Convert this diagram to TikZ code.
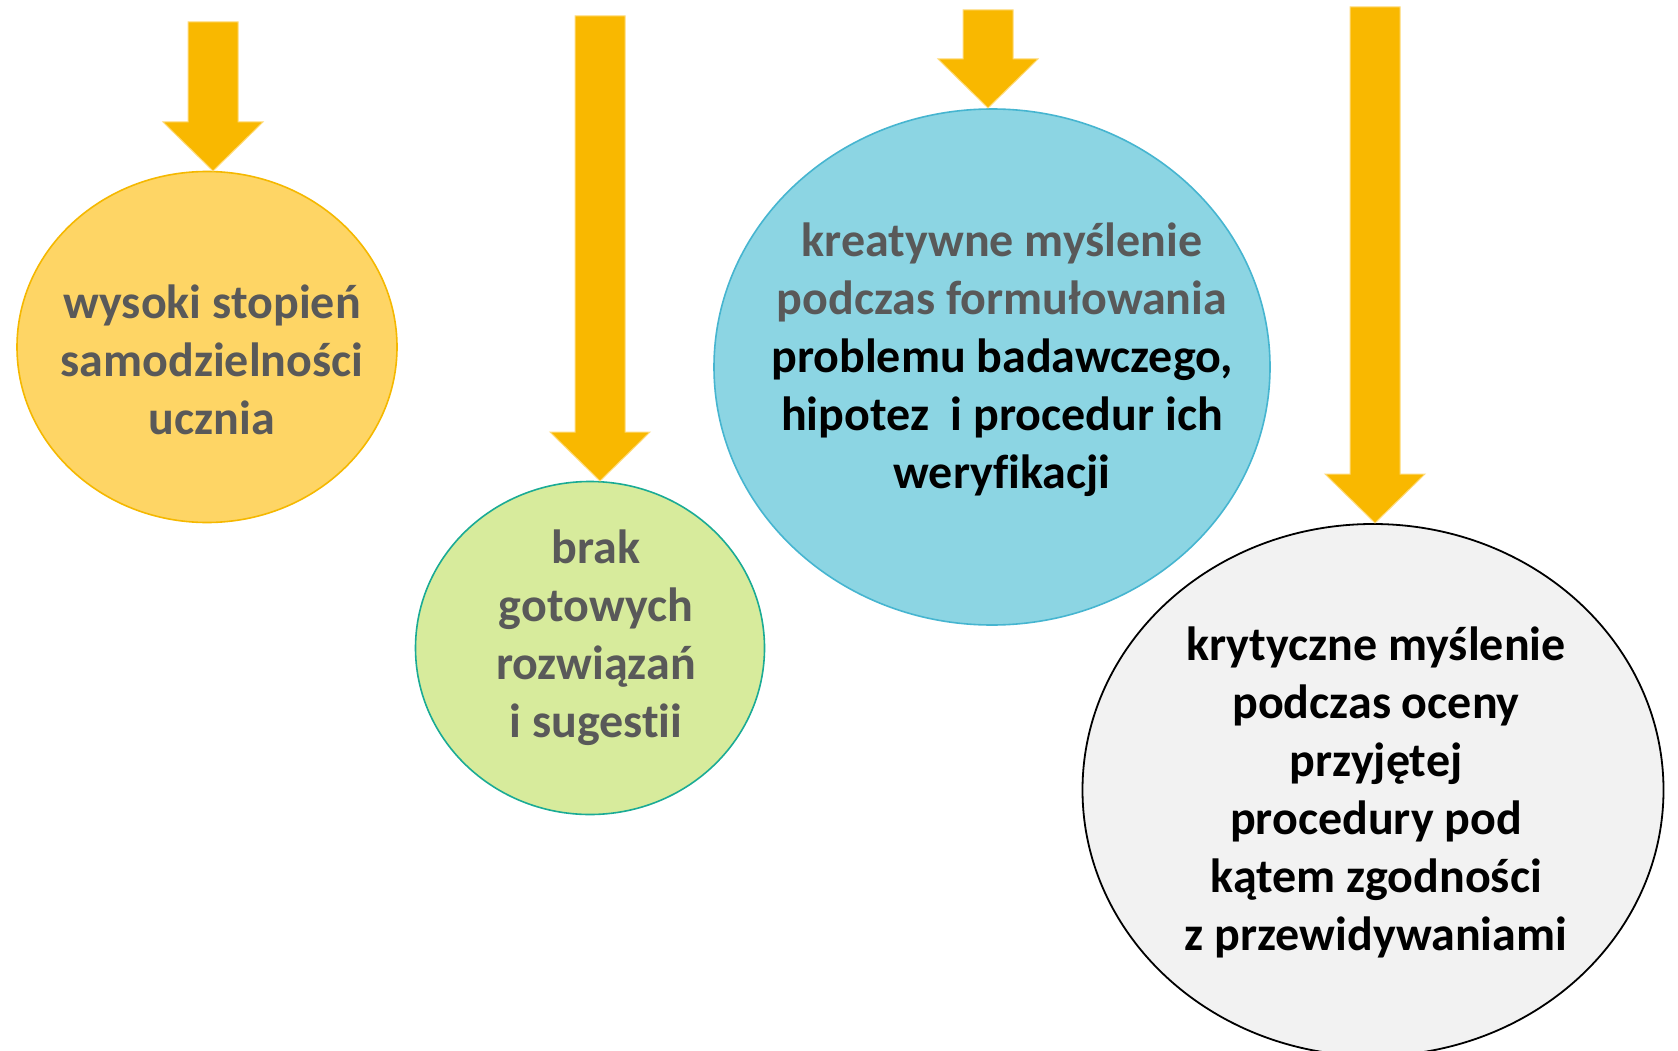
\documentclass[tikz,border=0pt]{standalone}
\usepackage{fontspec}
\setmainfont[Ligatures=NoCommon]{Carlito}
\usetikzlibrary{shapes.geometric,calc}
\definecolor{arrowfill}{HTML}{F9B800}
\definecolor{arrowedge}{HTML}{FFDB7A}
\definecolor{txtgrey}{HTML}{595959}
\definecolor{yfill}{HTML}{FED565}
\definecolor{yedge}{HTML}{F5B800}
\definecolor{gfill}{HTML}{D7EB9C}
\definecolor{gedge}{HTML}{1AAB95}
\definecolor{bfill}{HTML}{8CD5E3}
\definecolor{bedge}{HTML}{46B5D0}
\definecolor{wfill}{HTML}{F2F2F2}
\tikzset{
  bubble/.style={ellipse, inner sep=0pt, line width=1.6pt},
  bubbletext/.style={align=center, font=\fontsize{48}{58}\selectfont\bfseries, inner sep=0pt},
  blockarrow/.style={fill=arrowfill, draw=arrowedge, line width=1pt, line join=miter},
}
% #1 top coordinate, #2 tip coordinate
\newcommand{\myblockarrow}[2]{%
  \path[blockarrow]
    ($(#1)+(-25,0)$) -- ($(#1)+(25,0)$) --
    ($(#2)+(25,-49)$) -- ($(#2)+(50,-49)$) -- (#2) --
    ($(#2)+(-50,-49)$) -- ($(#2)+(-25,-49)$) -- cycle;}
\begin{document}
\begin{tikzpicture}[x=1pt,y=-1pt]
\useasboundingbox (0,0) rectangle (1678,1051);
\fill[white] (0,0) rectangle (1678,1051);

% bubbles
\node[bubble, fill=yfill, draw=yedge, minimum width=380pt, minimum height=351pt] (e1) at (207,347) {};
\node[bubble, fill=gfill, draw=gedge, minimum width=349pt, minimum height=333pt] (e2) at (590,648) {};
\node[bubble, fill=bfill, draw=bedge, minimum width=556pt, minimum height=516pt] (e3) at (992,367) {};
\node[bubble, fill=wfill, draw=black, line width=1.8pt, minimum width=581pt, minimum height=532pt] (e4) at (1373,790) {};

% arrows
\coordinate (a1top) at (213,22);   \coordinate (a1tip) at (213,171);
\coordinate (a2top) at (600,16);   \coordinate (a2tip) at (600,481);
\coordinate (a3top) at (988,10);   \coordinate (a3tip) at (988,108);
\coordinate (a4top) at (1375,7);   \coordinate (a4tip) at (1375,523);
\myblockarrow{a1top}{a1tip}
\myblockarrow{a2top}{a2tip}
\myblockarrow{a3top}{a3tip}
\myblockarrow{a4top}{a4tip}

% texts
\node[bubbletext, text=txtgrey] (t1) at (212,360) {wysoki stopień\\samodzielności\\ucznia};
\node[bubbletext, text=txtgrey] (t2) at (596,638) {brak\\gotowych\\rozwiązań\\i sugestii};
\node[bubbletext] (t3) at (1002,360) {\textcolor{txtgrey}{kreatywne myślenie}\\\textcolor{txtgrey}{podczas formułowania}\\problemu badawczego,\\hipotez\ \ i procedur ich\\weryfikacji};
\node[bubbletext] (t4) at (1376,792) {krytyczne myślenie\\podczas oceny\\przyjętej\\procedury pod\\kątem zgodności\\z przewidywaniami};
\end{tikzpicture}
\end{document}
